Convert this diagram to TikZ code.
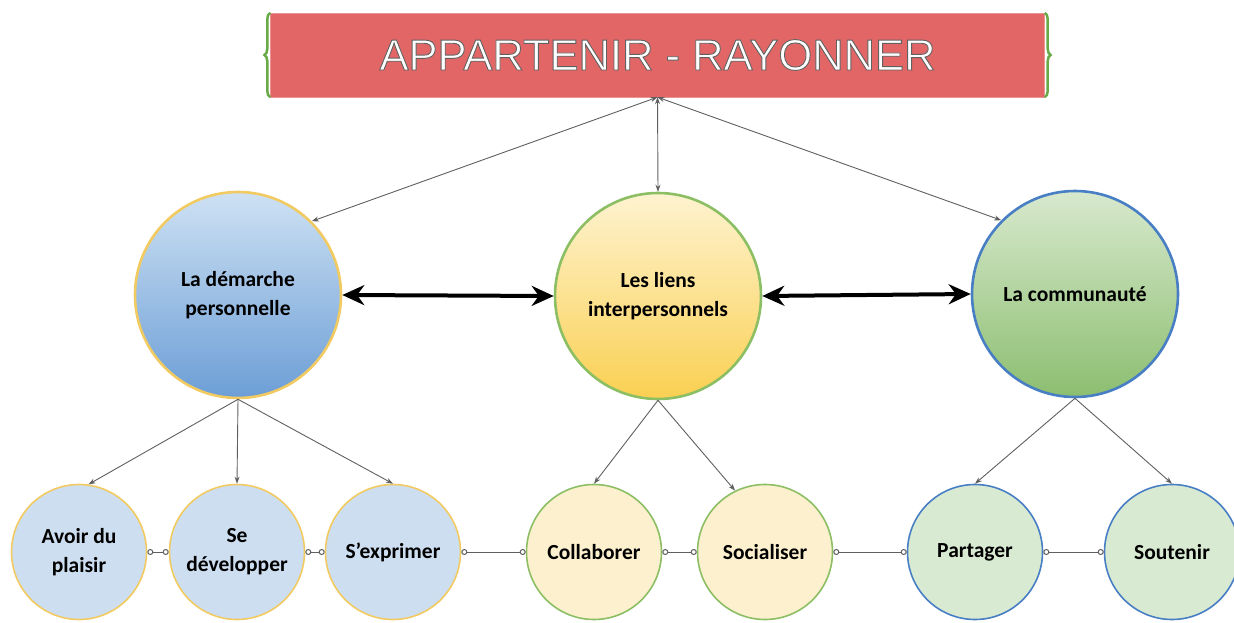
\documentclass[tikz,border=0pt]{standalone}
\usepackage{fontspec}
\setmainfont{Carlito}
\newfontfamily\titlefont{Liberation Sans}
\usetikzlibrary{arrows.meta, decorations.pathreplacing, positioning}

\definecolor{titlered}{RGB}{226,102,102}
\definecolor{bracegreen}{RGB}{104,170,72}
\definecolor{bluetop}{RGB}{206,225,243}
\definecolor{bluebot}{RGB}{108,158,214}
\definecolor{yellowtop}{RGB}{254,243,208}
\definecolor{yellowbot}{RGB}{250,208,82}
\definecolor{greentop}{RGB}{216,233,206}
\definecolor{greenbot}{RGB}{140,190,112}
\definecolor{yellowline}{RGB}{241,203,98}
\definecolor{greenline}{RGB}{140,190,100}
\definecolor{blueline}{RGB}{72,126,196}
\definecolor{bluepale}{RGB}{205,222,240}
\definecolor{yellowpale}{RGB}{253,240,206}
\definecolor{greenpale}{RGB}{216,234,210}
\definecolor{linkgray}{RGB}{95,95,95}

% outlined white letters
\newcommand{\outlined}[1]{\color{white}\special{pdf:literal direct 2 Tr 0.9 w 0.38 0.38 0.38 RG}#1\special{pdf:literal direct 0 Tr}}

\begin{document}
\begin{tikzpicture}[x=1pt, y=-1pt,
    bigcirc/.style={circle, minimum size=206pt, inner sep=0pt, line width=2.6pt, align=center},
    smallcirc/.style={circle, minimum size=135pt, inner sep=0pt, line width=1.6pt, align=center},
    link/.style={linkgray, line width=0.9pt, {Stealth[length=7pt,width=5pt]}-{Stealth[length=7pt,width=5pt]}},
    down/.style={linkgray, line width=0.9pt, -{Stealth[length=7pt,width=5pt]}},
    wire/.style={linkgray, line width=1pt, {Circle[open,length=6pt]}-{Circle[open,length=6pt]}},
    bond/.style={line width=4pt, {Stealth[length=22pt,width=20pt]}-{Stealth[length=22pt,width=20pt]}},
    font=\bfseries\fontsize{21.5}{29}\selectfont]
        %\draw [step=50] (0,0) grid (1234,623);
        \useasboundingbox (0,0) rectangle (1234,623);

        % title
        \node[fill=titlered, draw=titlered!70!white, minimum width=774pt, minimum height=84pt,
              font=\titlefont\fontsize{43.5}{44}\selectfont] (top) at (657.5,55)
              {\outlined{APPARTENIR - RAYONNER}};
        \draw[bracegreen, line width=2.5pt, decorate, decoration={brace, amplitude=6pt}] (top.south west) -- (top.north west);
        \draw[bracegreen, line width=2.5pt, decorate, decoration={brace, amplitude=6pt}] (top.north east) -- (top.south east);

        % big circles
        \node[bigcirc, draw=yellowline, top color=bluetop, bottom color=bluebot] (demarche) at (238,295) {La démarche\\personnelle};
        \node[bigcirc, draw=greenline, top color=yellowtop, bottom color=yellowbot] (liens) at (658,296) {Les liens\\interpersonnels};
        \node[bigcirc, draw=blueline, top color=greentop, bottom color=greenbot] (commu) at (1075,294) {La communauté};

        % small circles
        \node[smallcirc, draw=yellowline, fill=bluepale] (plaisir) at (79,552) {Avoir du\\plaisir};
        \node[smallcirc, draw=yellowline, fill=bluepale] (develop) at (237,552) {Se\\développer};
        \node[smallcirc, draw=yellowline, fill=bluepale] (exprimer) at (393,552) {S’exprimer};
        \node[smallcirc, draw=greenline, fill=yellowpale] (collab) at (594,552) {Collaborer};
        \node[smallcirc, draw=greenline, fill=yellowpale] (social) at (765,552) {Socialiser};
        \node[smallcirc, draw=blueline, fill=greenpale] (partager) at (975,552) {Partager};
        \node[smallcirc, draw=blueline, fill=greenpale] (soutenir) at (1172,552) {Soutenir};

        % links to the title
        \draw[link] (top.south) -- (demarche.45);
        \draw[link] (top.south) -- (liens.north);
        \draw[link] (top.south) -- (commu.135);

        % thick links
        \draw[bond] (demarche.east) -- (liens.west);
        \draw[bond] (liens.east) -- (commu.west);

        % down links
        \draw[down] (demarche.south) -- (plaisir.82);
        \draw[down] (demarche.south) -- (develop.north);
        \draw[down] (demarche.south) -- (exprimer.north);
        \draw[down] (liens.south) -- (collab.north);
        \draw[down] (liens.south) -- (social.116);
        \draw[down] (commu.south) -- (partager.north);
        \draw[down] (commu.south) -- (soutenir.north);

        % bottom row
        \draw[wire] (plaisir.east) -- (develop.west);
        \draw[wire] (develop.east) -- (exprimer.west);
        \draw[wire] (exprimer.east) -- (collab.west);
        \draw[wire] (collab.east) -- (social.west);
        \draw[wire] (social.east) -- (partager.west);
        \draw[wire] (partager.east) -- (soutenir.west);
\end{tikzpicture}
\end{document}
